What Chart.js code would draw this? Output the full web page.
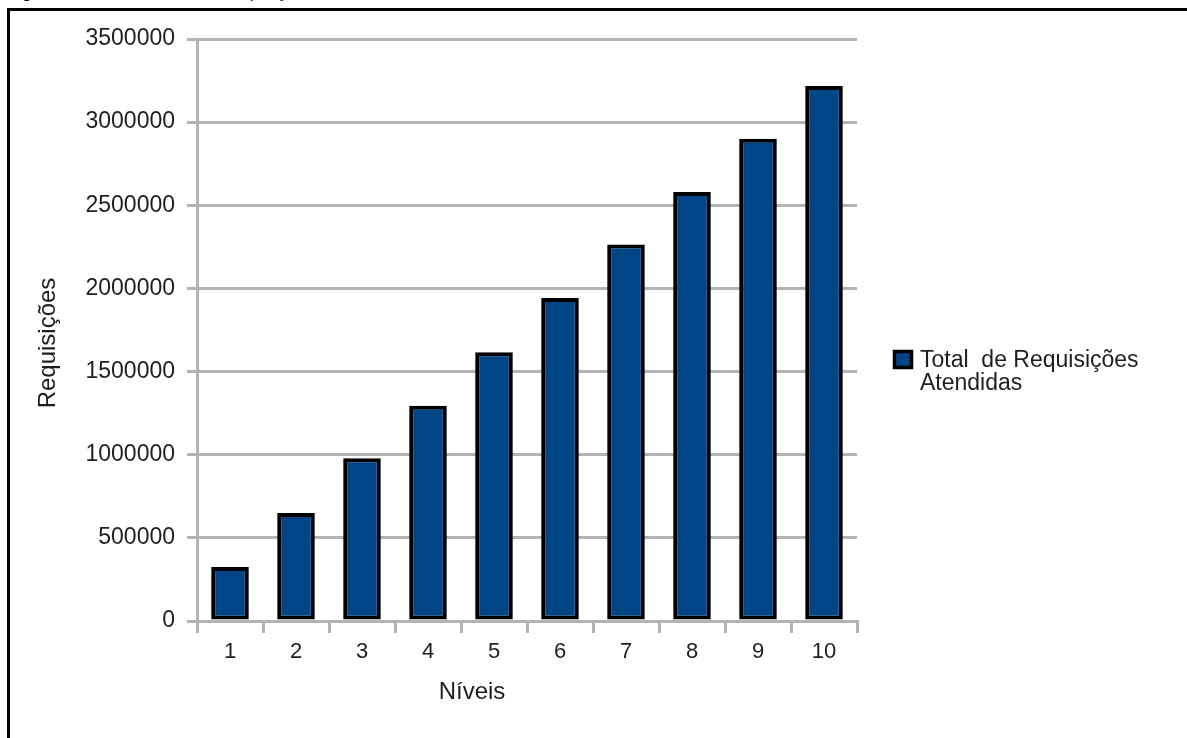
<!DOCTYPE html>
<html>
<head>
<meta charset="utf-8">
<title>Total de Requisições Atendidas</title>
<script src="https://cdn.jsdelivr.net/npm/chart.js@4/dist/chart.umd.min.js"></script>
<style>
    body { margin: 0; background: #fff; overflow: hidden; }
    #wrap { position: relative; width: 1187px; height: 738px; overflow: hidden; }
    #frame {
        position: absolute; left: 7px; top: 8px; width: 1300px; height: 900px;
        border: 3px solid #000;
    }
    #caption {
        position: absolute; left: 9px; top: -15px; font: 16px "Liberation Sans", Arial, sans-serif;
        line-height: 16px; color: #000; white-space: nowrap;
    }
    #chart { position: absolute; left: 0; top: 0; }
</style>
</head>
<body>
<div id="wrap">
    <div id="caption">Figura 4 – Gráfico do Total de Requisições Atendidas</div>
    <div id="frame"></div>
    <canvas id="chart" width="1187" height="738"></canvas>
</div>
<script>
// Chart data
const niveis = ['1', '2', '3', '4', '5', '6', '7', '8', '9', '10'];
const requisicoes = [325000, 650000, 978000, 1295000, 1616000, 1942000, 2264000, 2580000, 2900000, 3218000];
const yTicks = [0, 500000, 1000000, 1500000, 2000000, 2500000, 3000000, 3500000];
const serieNome = 'Total de Requisições Atendidas';
const legendaLinhas = ['Total  de Requisições', 'Atendidas'];
const tituloX = 'Níveis';
const tituloY = 'Requisições';

const GRID = '#b3b3b3';
const TEXT = '#1e1e1e';
const FONT = '"Liberation Sans", Arial, sans-serif';

// Axis titles and legend, drawn at the spots they sit in the original figure
const extrasPlugin = {
    id: 'extras',
    afterDraw(chart) {
        const ctx = chart.ctx;
        const ds = chart.data.datasets[0];
        ctx.save();
        ctx.fillStyle = TEXT;
        ctx.font = '24px ' + FONT;
        ctx.textAlign = 'center';
        ctx.textBaseline = 'middle';
        ctx.fillText(tituloX, 472, 692);

        ctx.translate(48, 343);
        ctx.rotate(-Math.PI / 2);
        ctx.fillText(tituloY, 0, 0);
        ctx.restore();

        // legend
        ctx.save();
        ctx.fillStyle = ds.backgroundColor;
        ctx.fillRect(894, 351, 18, 17);
        ctx.lineWidth = 3.5;
        ctx.strokeStyle = '#000';
        ctx.strokeRect(894.5, 351.5, 17, 16);
        ctx.fillStyle = TEXT;
        ctx.font = '23px ' + FONT;
        ctx.textAlign = 'left';
        ctx.textBaseline = 'alphabetic';
        legendaLinhas.forEach((linha, i) => {
            ctx.fillText(linha, 920, 367 + i * 23);
        });
        ctx.restore();
    }
};

document.addEventListener('DOMContentLoaded', () => {
    new Chart(document.getElementById('chart'), {
        type: 'bar',
        data: {
            labels: niveis,
            datasets: [{
                label: serieNome,
                data: requisicoes,
                backgroundColor: '#004586',
                borderColor: '#000',
                borderWidth: 4,
                borderSkipped: false,
                categoryPercentage: 1,
                barPercentage: 0.57
            }]
        },
        options: {
            responsive: false,
            animation: false,
            layout: { padding: { left: 0, top: 39, right: 330, bottom: 0 } },
            plugins: {
                legend: { display: false },
                tooltip: { enabled: false }
            },
            scales: {
                x: {
                    afterFit(scale) { scale.height = 117; },
                    grid: {
                        offset: true,
                        lineWidth: 3,
                        tickLength: 12,
                        tickColor: GRID,
                        color: ctx => (ctx.index === 0 || ctx.index === niveis.length) ? GRID : 'rgba(0,0,0,0)'
                    },
                    border: { color: GRID, width: 3 },
                    ticks: {
                        color: TEXT,
                        font: { family: FONT, size: 22 },
                        padding: 6,
                        maxRotation: 0
                    }
                },
                y: {
                    min: 0,
                    max: 3500000,
                    afterFit(scale) { scale.width = 197; },
                    afterBuildTicks(scale) { scale.ticks = yTicks.map(v => ({ value: v })); },
                    grid: { color: GRID, lineWidth: 3, tickLength: 10 },
                    border: { color: GRID, width: 3 },
                    ticks: {
                        color: TEXT,
                        font: { family: FONT, size: 23 },
                        padding: 12,
                        callback: v => String(v)
                    }
                }
            }
        },
        plugins: [extrasPlugin]
    });
});
</script>
</body>
</html>
